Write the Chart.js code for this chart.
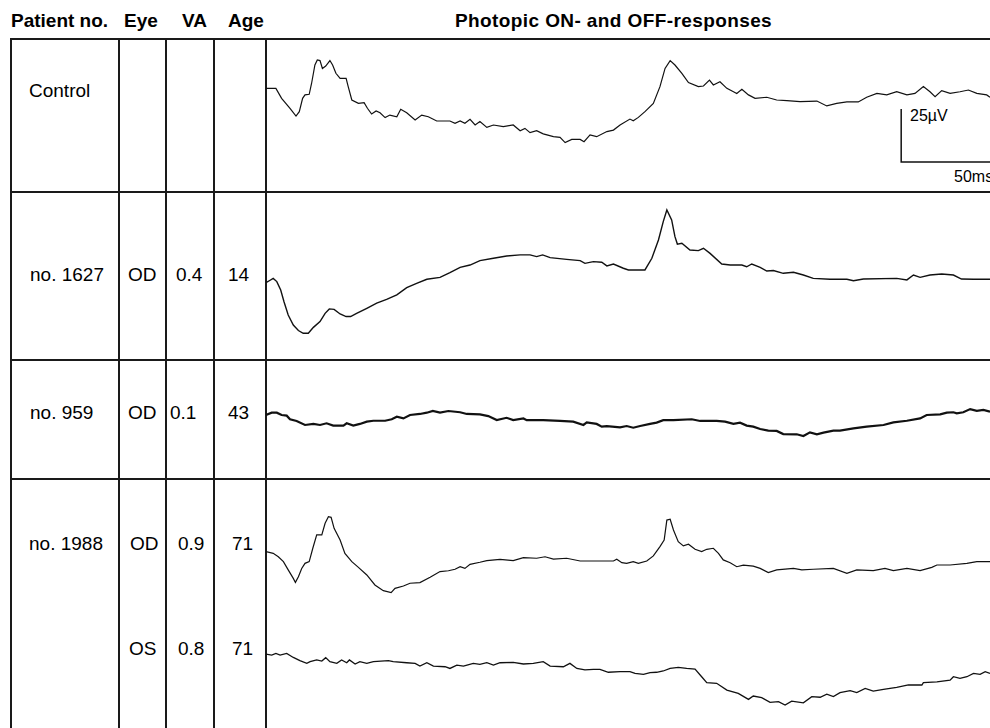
<!DOCTYPE html>
<html>
<head>
<meta charset="utf-8">
<script src="https://cdn.jsdelivr.net/npm/chart.js@4"></script>
<style>
  body { margin: 0; background: #fff; }
  #fig { position: relative; width: 990px; height: 728px; overflow: hidden; font-family: "Liberation Sans", Arial, sans-serif; color: #000; }
  .t { position: absolute; font-size: 19px; line-height: 19px; white-space: nowrap; }
  .h { font-weight: bold; }
  .s { font-size: 16px; line-height: 16px; }
  .hl { position: absolute; height: 2px; background: #1a1a1a; }
  .vl { position: absolute; width: 2px; background: #1a1a1a; }
  canvas { position: absolute; }
</style>
</head>
<body>
<div id="fig">
  <!-- table grid -->
  <div class="hl" style="left:10px;top:38px;width:980px"></div>
  <div class="hl" style="left:10px;top:191px;width:980px"></div>
  <div class="hl" style="left:10px;top:359px;width:980px"></div>
  <div class="hl" style="left:10px;top:478px;width:980px"></div>
  <div class="vl" style="left:10px;top:38px;height:690px"></div>
  <div class="vl" style="left:118px;top:38px;height:690px"></div>
  <div class="vl" style="left:165px;top:38px;height:690px"></div>
  <div class="vl" style="left:213px;top:38px;height:690px"></div>
  <div class="vl" style="left:265px;top:38px;height:690px"></div>

  <!-- header -->
  <div class="t h" style="left:11px;top:11px">Patient no.</div>
  <div class="t h" style="left:124px;top:11px">Eye</div>
  <div class="t h" style="left:182px;top:11px">VA</div>
  <div class="t h" style="left:228px;top:11px">Age</div>
  <div class="t h" style="left:455px;top:11px;letter-spacing:0.4px">Photopic ON- and OFF-responses</div>

  <!-- rows -->
  <div class="t" style="left:29px;top:81px">Control</div>

  <div class="t" style="left:30px;top:265px">no. 1627</div>
  <div class="t" style="left:128px;top:265px">OD</div>
  <div class="t" style="left:176px;top:265px">0.4</div>
  <div class="t" style="left:228px;top:265px">14</div>

  <div class="t" style="left:30px;top:403px">no. 959</div>
  <div class="t" style="left:128px;top:403px">OD</div>
  <div class="t" style="left:170px;top:403px">0.1</div>
  <div class="t" style="left:228px;top:403px">43</div>

  <div class="t" style="left:29px;top:534px">no. 1988</div>
  <div class="t" style="left:130px;top:534px">OD</div>
  <div class="t" style="left:178px;top:534px">0.9</div>
  <div class="t" style="left:232px;top:534px">71</div>

  <div class="t" style="left:129px;top:639px">OS</div>
  <div class="t" style="left:178px;top:639px">0.8</div>
  <div class="t" style="left:232px;top:639px">71</div>

  <!-- scale bar labels -->
  <div class="t s" style="left:910px;top:108px">25µV</div>
  <div class="t s" style="left:954px;top:169px">50ms</div>

  <canvas id="cControl" width="724" height="152" style="left:266px;top:40px"></canvas>
  <canvas id="c1627" width="724" height="167" style="left:266px;top:193px"></canvas>
  <canvas id="c959" width="724" height="118" style="left:266px;top:361px"></canvas>
  <canvas id="c1988od" width="724" height="120" style="left:266px;top:480px"></canvas>
  <canvas id="c1988os" width="724" height="128" style="left:266px;top:600px"></canvas>
</div>

<script>
// samples: [time in ms, amplitude in µV relative to the first sample]
const controlTrace = [[0,0],[3.3,0],[5.2,-4.7],[8,-9.4],[10,-13.1],[11.1,-11],[12.2,-4.7],[13,-3.1],[14.4,-2.8],[15.2,2.4],[16.3,11],[17.1,13.4],[18,13.1],[18.8,9.4],[19.9,10.5],[21.3,13.1],[22.2,11],[23.3,7.1],[24.7,4.7],[26.7,4.7],[27.4,0.8],[28.6,-5.5],[30.8,-7.1],[32.7,-6.8],[33.8,-9.4],[35.2,-12.1],[36.7,-10.7],[38,-11.5],[39.7,-13.8],[41.3,-12.6],[43.6,-13.4],[44.9,-9.9],[46.9,-11.5],[49.7,-14.9],[51.9,-12.6],[54.1,-13.4],[56.9,-15.4],[61.3,-15.4],[63,-16.5],[64.7,-15.4],[66.3,-16.5],[68,-14.6],[69.7,-17.3],[71.3,-15.7],[73.6,-18.4],[75.8,-17.3],[79.1,-18.1],[82.4,-17.3],[84.7,-20],[86.3,-18.9],[88,-20.9],[90.2,-20],[92.4,-21.5],[95.8,-22.8],[98,-23.1],[99.7,-25.6],[101.9,-24.1],[104.7,-24.1],[106,-25.2],[108,-22],[110.2,-22.8],[113.6,-20.4],[115.8,-19.7],[118,-17.3],[121.3,-14.5],[122.4,-15.3],[124.1,-13.7],[126.3,-11],[129.1,-7.1],[131.3,0.8],[133,9.4],[134.7,13.1],[136.3,11],[138.6,7.1],[140.8,2.7],[144.1,0.8],[145.8,1.1],[147.8,3.9],[149.1,1.6],[151.3,3.1],[153.6,0],[155.8,-1.6],[156.9,-2.4],[158.6,-0.5],[160.8,-3.1],[163,-4.7],[166.9,-4.2],[170.2,-5.5],[173.6,-5.8],[178,-6.3],[183.6,-6],[186.9,-8.3],[190.2,-7.1],[193.6,-6.4],[197.4,-6.4],[200.2,-4.2],[203.6,-2.4],[206.9,-3.1],[210.2,-1.6],[213.6,-3.1],[216.3,-2.4],[219.1,0.8],[221.3,-1.6],[223,-3.9],[225.2,-1.1],[228,-2.4],[231.3,-1.6],[234.1,-0.8],[236.9,-2.4],[240.2,-3.1],[241.3,-4.2]];

const p1627Trace = [[0,0],[1.1,0.9],[2.4,2],[3.6,0.5],[4.9,-3.5],[6,-9],[7.4,-15.3],[9.1,-20],[10.8,-22.6],[12.4,-23.9],[14.1,-23.9],[15.8,-21.1],[18,-18.4],[19.7,-14.5],[21.1,-12.4],[22.7,-12.6],[24.7,-14.8],[26.7,-16],[28.2,-16],[30.2,-14.5],[33.6,-12.1],[36.9,-9.7],[40.2,-7.9],[43.6,-5.8],[46.9,-2.4],[50.2,-0.3],[53.6,1.6],[58,2.5],[61.3,4.7],[64.7,7.2],[68,8.3],[71.3,10.4],[75.8,11.5],[80.2,12.6],[84.7,13.1],[88,13.1],[90.2,12.3],[92.2,13.1],[94.7,11.8],[100.2,11],[104.7,10.4],[106.3,9.1],[109.1,9.9],[111.9,9.6],[113.6,7.9],[115.8,8.8],[119.1,6.8],[120.8,6],[122.4,6],[126.3,6],[128.6,11.5],[130.8,20.1],[132.4,28.8],[133.6,34.3],[135.2,29.6],[136.3,21.7],[137.1,18.2],[138.6,18.6],[141.3,15.4],[144.1,15.1],[145.8,16.2],[148,13.8],[151.9,8.8],[154.7,8.3],[158.6,8.3],[160.2,7.5],[161.9,8.8],[164.7,7.2],[166.9,5.5],[169.1,5.7],[172.4,4.4],[175.8,4.9],[179.1,3.6],[182.4,2],[188,1.6],[193.6,1.6],[195.8,0.9],[199.1,1.7],[210.2,2],[213.6,1.3],[215.8,3.6],[218,2.5],[221.3,3.6],[225.2,4.1],[229.1,3.6],[231.8,1.7],[235.8,1.6],[241.3,1.6]];

const p959Trace = [[0,0],[1.9,1.1],[3.6,1.1],[5.2,0],[6.9,-0.3],[8,-2],[10.2,-2.8],[13,-4.7],[15.8,-4.2],[18,-4.7],[20.2,-3.9],[22.4,-5],[25.8,-5],[26.9,-3.9],[29.1,-5],[31.3,-4.2],[33.6,-3.1],[35.8,-2.7],[39.7,-2.7],[41.9,-2],[43.6,-0.8],[45.8,-1.6],[48,0],[51.3,0.5],[53.6,1.1],[55.6,1.9],[58,1.1],[60.8,1.9],[64.7,1.3],[66.9,0.5],[71.3,0.3],[74.1,-0.5],[76.9,-2.4],[80.2,-1.3],[82.4,-2.4],[85.8,-1.6],[86.9,-2.4],[92.4,-2.4],[98,-2.8],[102.4,-3.1],[105.8,-4.7],[106.9,-3.5],[110.2,-4.2],[111.9,-5.5],[113.6,-5.2],[118,-5.8],[120.2,-5.2],[122.4,-6],[124.7,-5.2],[128,-4.2],[130.2,-3.6],[132.4,-2.4],[135.8,-2.4],[141.9,-2],[144.7,-2.8],[150.2,-2.8],[153,-3.1],[155.8,-4.2],[158,-3.6],[160.2,-5],[162.4,-5.5],[164.7,-6.6],[167.4,-7.4],[170.2,-7.5],[172.4,-9],[176.9,-9.1],[179.1,-9.9],[181.3,-8.2],[183.6,-9.1],[185.8,-8.3],[189.1,-7.4],[191.3,-7.4],[195.8,-6.3],[200.2,-5.5],[205.8,-4.7],[209.1,-3.5],[213.6,-2.7],[218,-1.6],[220.2,0],[224.7,0.3],[226.9,1.1],[229.1,1.3],[230.2,0.8],[232.4,1.3],[234.7,2.8],[236.9,2],[239.1,2.4],[241.3,1.6]];

const p1988odTrace = [[0,0],[2.4,-0.8],[4.1,-2.4],[5.8,-4.7],[7.4,-8.6],[9.1,-12.6],[9.8,-14.5],[10.8,-11.8],[11.9,-7.9],[13,-5.5],[14.4,-4.7],[15.6,1.6],[16.9,7.9],[18.6,7.9],[19.7,13.4],[20.8,16.5],[21.7,16.2],[22.7,11],[24.7,5.5],[26.3,-0.8],[28.6,-4.7],[30.8,-7.4],[33.6,-11],[36.3,-15.7],[39.1,-18.4],[41.7,-19.3],[43,-17.3],[45.8,-16.2],[48,-14.9],[51.3,-14.6],[54.7,-12.1],[58,-9.4],[60.8,-9],[63,-8.3],[64.7,-7.1],[66.3,-7.9],[68,-6],[71.3,-5],[73.6,-4.2],[78,-3.6],[82.4,-4.2],[85.8,-2.8],[90.2,-3.1],[93,-2.4],[95.8,-3.5],[100.2,-3.1],[104.7,-4.4],[109.1,-4.4],[115.8,-4.4],[116.9,-3.6],[118.6,-5.2],[120.2,-5.5],[122.4,-4.7],[124.1,-5.5],[126.9,-4.4],[129.1,-2],[131.3,2.4],[132.7,5.5],[133.6,14.9],[134.7,15.3],[135.8,10.2],[137.4,4.7],[139.1,2.7],[140.8,3.5],[143,1.1],[145.2,0],[146.9,1.1],[149.1,1.6],[150.8,-0.8],[152.4,-3.9],[154.7,-5.2],[156.9,-7.1],[159.1,-6.4],[162.4,-6.8],[164.7,-7.9],[167.4,-9.9],[170.2,-8.6],[175.8,-7.9],[178.6,-8.6],[182.4,-8.3],[189.1,-7.9],[193.6,-10.2],[196.9,-8.6],[202.4,-8.9],[206.3,-7.9],[209.1,-8.9],[213.6,-7.9],[218,-8.9],[221.9,-7.4],[223.6,-6.3],[228,-6.3],[233.6,-5.5],[236.9,-4.7],[241.3,-4.7]];

const p1988osTrace = [[0,0],[1.9,-0.5],[3.3,0.3],[4.7,-0.5],[6.9,0.3],[9.1,-1.6],[11.3,-3.1],[13.6,-4.4],[14.7,-3.6],[16.9,-2.8],[18.6,-3.3],[19.9,-1.7],[21.3,-3.6],[23.6,-4.4],[25.2,-2.8],[26.9,-4.1],[27.8,-2.8],[29.7,-4.7],[31.3,-3.6],[33.6,-4.4],[35.8,-3.6],[40.8,-3.1],[42.4,-3.6],[46.9,-4.1],[49.7,-4.4],[51.3,-5.7],[53.6,-4.1],[55.8,-5.7],[59.7,-6],[61.3,-6.8],[63.6,-5.2],[65.8,-5.7],[69.1,-4.4],[71.3,-4.9],[73.6,-4.1],[75.8,-5.2],[78,-4.1],[82.4,-3.9],[85.8,-4.7],[89.1,-4.4],[92.4,-3.6],[94.7,-5.7],[99.1,-6],[101.3,-4.4],[103.6,-6.8],[106.3,-7.5],[109.1,-7.2],[111.3,-7.2],[114.1,-8.6],[118,-8.3],[121.3,-8.3],[123,-9.1],[125.8,-9.6],[128,-8.8],[130.2,-8.6],[132.4,-8],[134.7,-6.8],[137.4,-6.3],[140.2,-6.8],[143,-7.1],[145.2,-10.7],[146.9,-13.5],[150.2,-13.8],[153.6,-17],[157.4,-18.6],[160.8,-21.4],[162.4,-19.8],[165.2,-20.6],[168,-22.8],[170.8,-22.5],[173,-24.1],[175.2,-22.2],[179.1,-23],[181.9,-20.1],[184.7,-20.4],[186.9,-18.9],[189.1,-20.1],[191.3,-18.2],[194.7,-17.3],[196.9,-18.2],[199.7,-16.2],[202.4,-17.5],[205.8,-16.7],[210.2,-15.7],[214.1,-14.6],[218.6,-14.6],[219.1,-13.5],[223.6,-13.1],[228,-12.3],[229.1,-10.7],[231.3,-11.5],[233.6,-10.7],[235.8,-9.1],[238,-9.6],[239.7,-8.3],[241.3,-9.1]];

// calibration bar: 25 µV / 50 ms
const scaleBar = { t: 211.7, v: -9.8, dv: 25, dt: 50 };

const tMax = 241.3;

const panels = [
    { id: 'cControl', trace: controlTrace, yMin: -48.9, yMax: 22.8, width: 1.2, bar: true },
    { id: 'c1627', trace: p1627Trace, yMin: -36.5, yMax: 42.3, width: 1.4 },
    { id: 'c959', trace: p959Trace, yMin: -30.2, yMax: 25.5, width: 2.2 },
    { id: 'c1988od', trace: p1988odTrace, yMin: -22.8, yMax: 33.8, width: 1.2 },
    { id: 'c1988os', trace: p1988osTrace, yMin: -34.9, yMax: 25.5, width: 1.3 }
];

// draws the calibration bar from data units
const scaleBarPlugin = {
    id: 'scaleBar',
    afterDatasetsDraw(chart, args, opts) {
        if (!opts.show) return;
        const x = chart.scales.x, y = chart.scales.y, ctx = chart.ctx;
        const x0 = x.getPixelForValue(scaleBar.t);
        const x1 = x.getPixelForValue(scaleBar.t + scaleBar.dt);
        const yTop = y.getPixelForValue(scaleBar.v);
        const yBot = y.getPixelForValue(scaleBar.v - scaleBar.dv);
        ctx.save();
        ctx.strokeStyle = '#111';
        ctx.lineWidth = 1.5;
        ctx.beginPath();
        ctx.moveTo(x0, yTop);
        ctx.lineTo(x0, yBot);
        ctx.lineTo(x1, yBot);
        ctx.stroke();
        ctx.restore();
    }
};

panels.forEach(p => {
    const ctx = document.getElementById(p.id).getContext('2d');
    new Chart(ctx, {
        type: 'line',
        data: {
            datasets: [{
                data: p.trace.map(s => ({ x: s[0], y: s[1] })),
                borderColor: '#111',
                borderWidth: p.width,
                pointRadius: 0,
                tension: 0,
                fill: false
            }]
        },
        options: {
            responsive: false,
            animation: false,
            devicePixelRatio: 1,
            layout: { padding: 0 },
            plugins: {
                legend: { display: false },
                tooltip: { enabled: false },
                scaleBar: { show: !!p.bar }
            },
            scales: {
                x: { type: 'linear', min: 0, max: tMax, display: false },
                y: { min: p.yMin, max: p.yMax, display: false }
            }
        },
        plugins: [scaleBarPlugin]
    });
});
</script>
</body>
</html>
